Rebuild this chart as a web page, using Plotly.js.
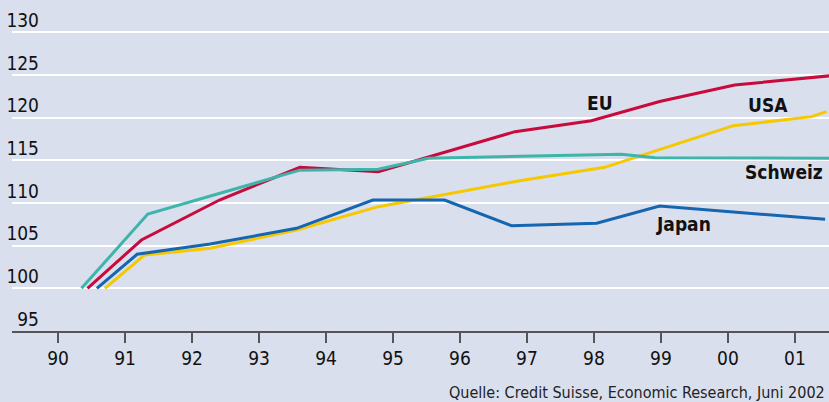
<!DOCTYPE html>
<html>
<head>
<meta charset="utf-8">
<script src="https://cdn.plot.ly/plotly-3.0.1.min.js"></script>
<style>html,body{margin:0;padding:0;background:#D9DFED;}#chart{width:829px;height:402px;}</style>
</head>
<body>
<div id="chart"></div>
<script>
// x values are years since 1990 (0 = "90", 11 = "01")
const tickVals = [0,1,2,3,4,5,6,7,8,9,10,11];
const tickLabels = ["90","91","92","93","94","95","96","97","98","99","00","01"];
const yTickVals = [95,100,105,110,115,120,125,130];

const schweizX = [0.35, 1.34, 3.61, 4.78, 5.53, 6.89, 8.41, 8.91, 11.51];
const schweizY = [100, 108.7, 113.85, 113.95, 115.25, 115.5, 115.7, 115.3, 115.24];

const euX = [0.44, 1.245, 2.41, 3.61, 4.78, 6.82, 7.96, 8.98, 10.1, 11.51];
const euY = [100, 105.66, 110.35, 114.18, 113.67, 118.36, 119.65, 121.9, 123.83, 124.9];

const japanX = [0.58, 1.18, 2.27, 3.56, 4.70, 5.77, 6.77, 8.04, 8.98, 11.45];
const japanY = [100, 103.99, 105.19, 107.03, 110.35, 110.35, 107.34, 107.62, 109.65, 108.09];

const usaX = [0.70, 1.29, 2.27, 3.56, 4.78, 6.89, 8.16, 10.08, 11.25, 11.47];
const usaY = [100, 103.9, 104.69, 106.83, 109.57, 112.61, 114.18, 119.06, 120.12, 120.7];

const seriesNames = ["Schweiz", "EU", "Japan", "USA"];
const seriesColors = ["#3DB5AA", "#C80A3C", "#1565B0", "#F5C800"];
const seriesX = [schweizX, euX, japanX, usaX];
const seriesY = [schweizY, euY, japanY, usaY];

const labelText = ["EU", "USA", "Schweiz", "Japan"];
const labelX = [8.09, 10.59, 10.83, 9.33];
const labelY = [121.75, 121.48, 113.63, 107.54];

const sourceText = "Quelle: Credit Suisse, Economic Research, Juni 2002";

const FONT = "'Liberation Sans Narrow', 'DejaVu Sans Condensed', 'Arial Narrow', sans-serif";

const traces = [3,2,1,0].map(i => ({
  x: seriesX[i], y: seriesY[i], name: seriesNames[i],
  type: "scatter", mode: "lines",
  line: {color: seriesColors[i], width: 3},
  hoverinfo: "skip"
}));

const annotations = labelText.map((t, i) => ({
  x: labelX[i], y: labelY[i], xref: "x", yref: "y",
  text: "<b>" + t + "</b>", showarrow: false,
  xanchor: "center", yanchor: "middle",
  font: {family: FONT, size: 19, color: "#111"}
}));
annotations.push({
  x: 0.997, y: -0.186, xref: "paper", yref: "paper",
  text: sourceText, showarrow: false, xanchor: "right", yanchor: "middle",
  font: {family: FONT, size: 16, color: "#222"}
});

const layout = {
  width: 829, height: 402,
  margin: {l: 12, r: 0, t: 0, b: 71, pad: 0},
  paper_bgcolor: "#D9DFED", plot_bgcolor: "#D9DFED",
  showlegend: false,
  font: {family: FONT, size: 19, color: "#111"},
  xaxis: {
    range: [-0.687, 11.508], tickmode: "array", tickvals: tickVals, ticktext: tickLabels,
    showgrid: false, zeroline: false, showline: true, linecolor: "#555", linewidth: 1.5,
    ticks: "outside", ticklen: 10, tickwidth: 1.5, tickcolor: "#555",
    tickfont: {family: FONT, size: 19, color: "#111"}, fixedrange: true
  },
  yaxis: {
    range: [95, 133.79], tickmode: "array", tickvals: yTickVals,
    showgrid: true, gridcolor: "#FFFFFF", gridwidth: 2, zeroline: false, showline: false,
    ticks: "", ticklabelposition: "outside", ticklabelstandoff: -28, ticklabelshift: -12,
    tickfont: {family: FONT, size: 19, color: "#111"}, fixedrange: true
  },
  annotations: annotations
};

Plotly.newPlot("chart", traces, layout, {displayModeBar: false, staticPlot: true});
</script>
</body>
</html>
